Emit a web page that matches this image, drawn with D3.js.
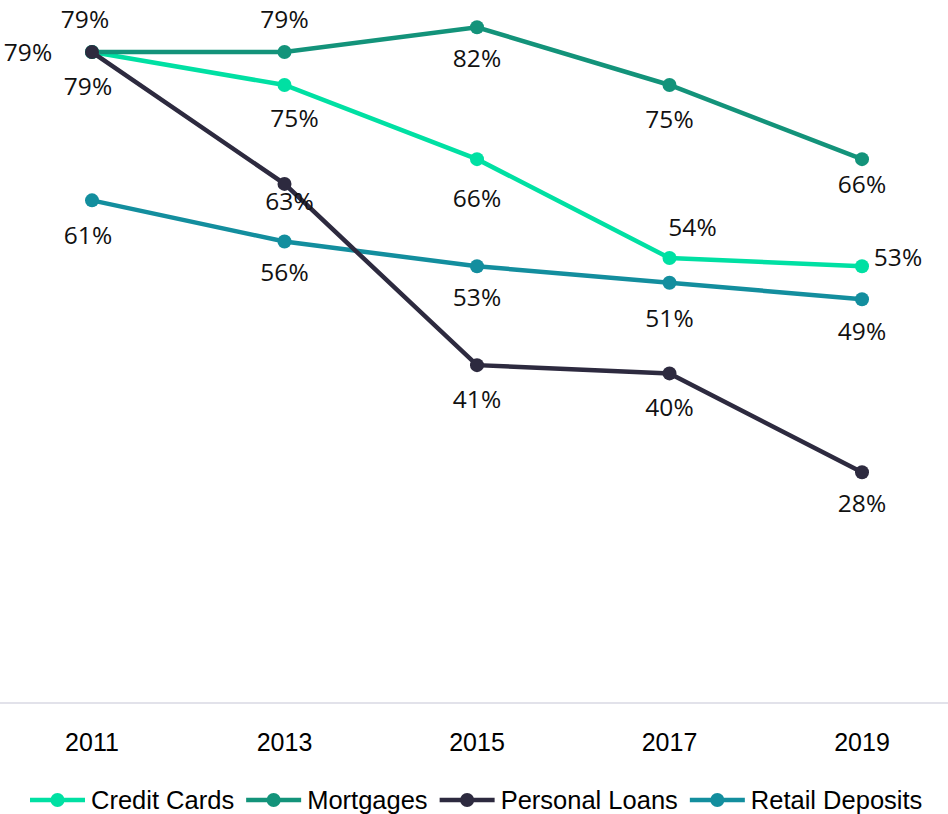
<!DOCTYPE html>
<html>
<head>
<meta charset="utf-8">
<script src="https://cdn.jsdelivr.net/npm/d3@7"></script>
<style>
  body { margin: 0; background: #fff; }
  svg { display: block; }
</style>
</head>
<body>
<div id="chart"></div>
<script>
// Data
const years = ["2011", "2013", "2015", "2017", "2019"];
const seriesNames = ["Credit Cards", "Mortgages", "Personal Loans", "Retail Deposits"];
const creditCards = [79, 75, 66, 54, 53];
const mortgages = [79, 79, 82, 75, 66];
const personalLoans = [79, 63, 41, 40, 28];
const retailDeposits = [61, 56, 53, 51, 49];

const colors = ["#00E0A3", "#13937A", "#2D2A3F", "#138E9E"];

// label offsets from the marker [dx, dy] (style only)
const labelOffsets = [
  [[-4, 34], [10, 33], [0, 39], [23, -31], [36, -9]],
  [[-7, -33], [0, -33], [0, 31], [0, 34], [0, 25]],
  [[-64, 0], [5, 17], [0, 34], [0, 34], [0, 31]],
  [[-4, 35], [0, 31], [0, 31], [0, 35], [0, 32]]
];

const W = 948, H = 814;
const svg = d3.select("#chart")
    .append("svg")
    .attr("width", W)
    .attr("height", H);

const x = d3.scalePoint()
    .domain(years)
    .range([92, 862]);

const y = d3.scaleLinear()
    .domain([0, 100])
    .range([703, -121]);

// x axis baseline
svg.append("line")
    .attr("x1", 0).attr("x2", W)
    .attr("y1", y(0)).attr("y2", y(0))
    .attr("stroke", "#D9D9E3")
    .attr("stroke-width", 1.5);

svg.append("g")
    .selectAll("text")
    .data(years)
    .join("text")
    .attr("x", d => x(d))
    .attr("y", 751)
    .attr("text-anchor", "middle")
    .style("font-family", "'Liberation Sans', sans-serif")
    .style("font-size", "25px")
    .attr("fill", "#000")
    .text(d => d);

const allSeries = [creditCards, mortgages, personalLoans, retailDeposits];

const line = d3.line()
    .x((d, i) => x(years[i]))
    .y(d => y(d));

// draw lines (retail first so order matches stacking)
const drawOrder = [3, 0, 1, 2];
drawOrder.forEach(s => {
  const vals = allSeries[s];
  const g = svg.append("g");
  g.append("path")
      .datum(vals)
      .attr("fill", "none")
      .attr("stroke", colors[s])
      .attr("stroke-width", 4.5)
      .attr("d", line);
  g.selectAll("circle")
      .data(vals)
      .join("circle")
      .attr("cx", (d, i) => x(years[i]))
      .attr("cy", d => y(d))
      .attr("r", 7)
      .attr("fill", colors[s]);
});

// data labels
allSeries.forEach((vals, s) => {
  svg.append("g")
      .selectAll("text")
      .data(vals)
      .join("text")
      .attr("x", (d, i) => x(years[i]) + labelOffsets[s][i][0])
      .attr("y", (d, i) => y(d) + labelOffsets[s][i][1])
      .attr("dy", "0.36em")
      .attr("text-anchor", "middle")
      .style("font-family", "'Open Sans', sans-serif")
      .style("font-size", "24.5px")
      .attr("fill", "#111")
      .text(d => d + "%");
});

// legend
const legend = svg.append("g").attr("transform", "translate(30,800)");
let lx = 0;
seriesNames.forEach((name, s) => {
  const item = legend.append("g").attr("transform", `translate(${lx},0)`);
  item.append("line")
      .attr("x1", 0).attr("x2", 55)
      .attr("y1", 0).attr("y2", 0)
      .attr("stroke", colors[s])
      .attr("stroke-width", 4.5);
  item.append("circle")
      .attr("cx", 27.5).attr("cy", 0).attr("r", 7)
      .attr("fill", colors[s]);
  const t = item.append("text")
      .attr("x", 61)
      .attr("y", 0)
      .attr("dy", "0.36em")
      .style("font-family", "'Liberation Sans', sans-serif")
      .style("font-size", "25.5px")
      .attr("fill", "#000")
      .text(name);
  lx += 61 + t.node().getComputedTextLength() + 12;
});
</script>
</body>
</html>
